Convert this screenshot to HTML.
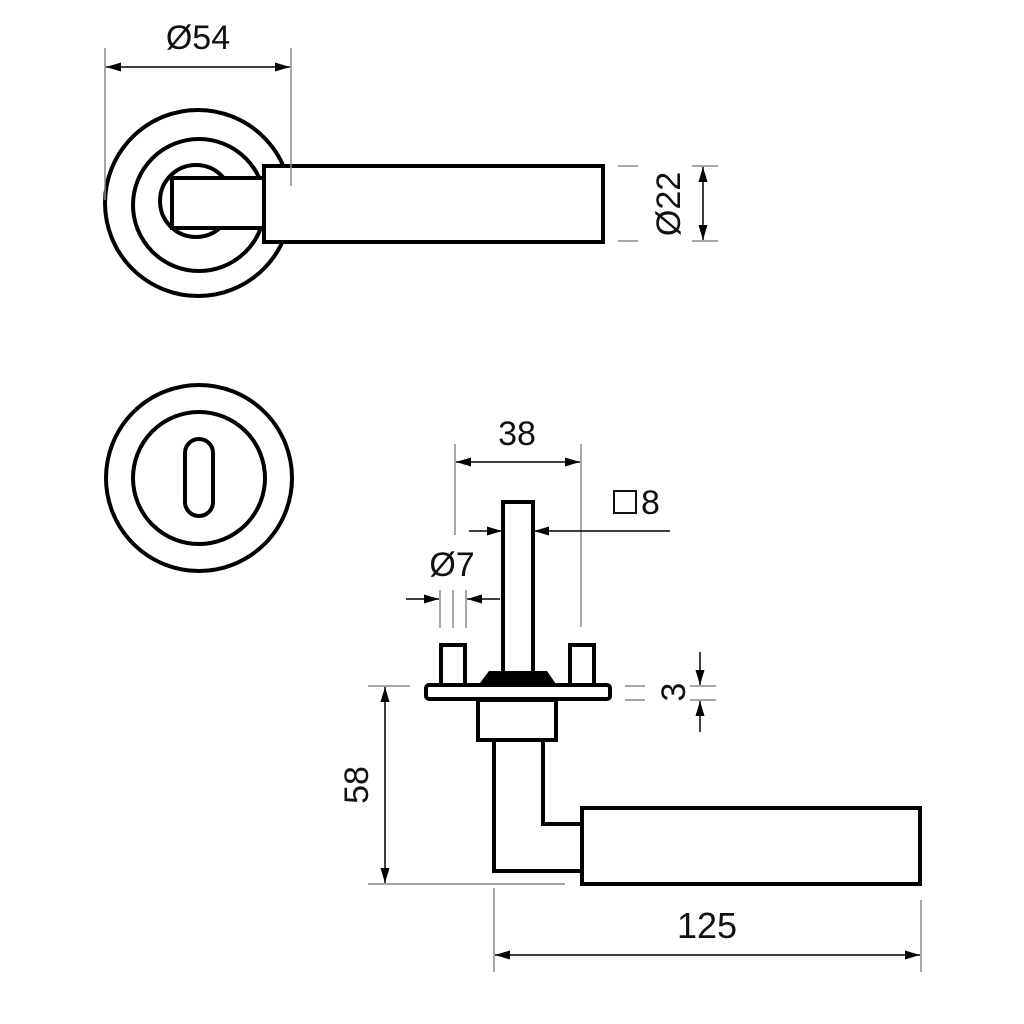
<!DOCTYPE html>
<html><head><meta charset="utf-8"><style>
html,body{margin:0;padding:0;background:#fff;}
svg{display:block;}
text{font-family:"Liberation Sans",sans-serif;fill:#111;}
</style></head><body>
<svg width="1024" height="1024" viewBox="0 0 1024 1024" xmlns="http://www.w3.org/2000/svg">
<defs>
<marker id="a" viewBox="0 0 15 9" refX="15" refY="4.5" markerWidth="15" markerHeight="9" markerUnits="userSpaceOnUse" orient="auto-start-reverse">
<path d="M0,0 L15,4.5 L0,9 z" fill="#000"/>
</marker>
</defs>
<rect width="1024" height="1024" fill="#fff"/>

<!-- Top view -->
<g fill="none" stroke="#000" stroke-width="4">
<circle cx="198" cy="203" r="93"/>
<circle cx="199" cy="205" r="66"/>
<circle cx="196" cy="201" r="36"/>
</g>
<rect x="172" y="178" width="93" height="50" fill="#fff" stroke="#000" stroke-width="4"/>
<rect x="264" y="166" width="339" height="76" fill="#fff" stroke="#000" stroke-width="4"/>

<!-- dims top -->
<g stroke="#888" stroke-width="1.5" fill="none">
<line x1="105" y1="48" x2="105" y2="200"/>
<line x1="291" y1="48" x2="291" y2="186"/>
<line x1="618" y1="166" x2="638" y2="166"/>
<line x1="618" y1="241" x2="638" y2="241"/>
<line x1="692" y1="166" x2="718" y2="166"/>
<line x1="692" y1="241" x2="718" y2="241"/>
</g>
<g stroke="#000" stroke-width="1.5">
<line x1="106" y1="67" x2="290" y2="67" marker-start="url(#a)" marker-end="url(#a)"/>
<line x1="703" y1="167" x2="703" y2="240" marker-start="url(#a)" marker-end="url(#a)"/>
</g>
<text x="198" y="49" font-size="34" text-anchor="middle">Ø54</text>
<text transform="translate(680,204) rotate(-90)" font-size="34" text-anchor="middle">Ø22</text>

<!-- Keyhole rosette -->
<g fill="none" stroke="#000" stroke-width="4">
<circle cx="199" cy="478" r="93"/>
<circle cx="199" cy="478" r="66"/>
<rect x="185" y="439" width="28" height="77" rx="14"/>
</g>

<!-- Side view -->
<rect x="503" y="502" width="30" height="172" fill="#fff" stroke="#000" stroke-width="4"/>
<rect x="441" y="645" width="24" height="42" fill="#fff" stroke="#000" stroke-width="4"/>
<rect x="570" y="645" width="24" height="42" fill="#fff" stroke="#000" stroke-width="4"/>
<path d="M477,687 L489,671 L547,671 L558,687 z" fill="#000"/>
<rect x="426" y="685" width="184" height="14" rx="3" fill="#fff" stroke="#000" stroke-width="4"/>
<rect x="478" y="700" width="78" height="40" fill="#fff" stroke="#000" stroke-width="4"/>
<path d="M494,740 L494,871 L583,871 M543,740 L543,824 L583,824" fill="none" stroke="#000" stroke-width="4"/>
<rect x="582" y="808" width="338" height="76" fill="#fff" stroke="#000" stroke-width="4"/>

<!-- side dims -->
<g stroke="#888" stroke-width="1.5" fill="none">
<line x1="455" y1="444" x2="455" y2="535"/>
<line x1="581" y1="444" x2="581" y2="627"/>
<line x1="440" y1="590" x2="440" y2="628"/>
<line x1="453" y1="590" x2="453" y2="628"/>
<line x1="466" y1="590" x2="466" y2="628"/>
<line x1="368" y1="686" x2="410" y2="686"/>
<line x1="368" y1="884" x2="565" y2="884"/>
<line x1="625" y1="686" x2="645" y2="686"/>
<line x1="625" y1="700" x2="645" y2="700"/>
<line x1="690" y1="686" x2="716" y2="686"/>
<line x1="690" y1="700" x2="716" y2="700"/>
<line x1="494" y1="888" x2="494" y2="972"/>
<line x1="921" y1="900" x2="921" y2="972"/>
</g>
<g stroke="#000" stroke-width="1.5" fill="none">
<line x1="456" y1="462" x2="580" y2="462" marker-start="url(#a)" marker-end="url(#a)"/>
<line x1="469" y1="531" x2="502" y2="531" marker-end="url(#a)"/>
<line x1="670" y1="531" x2="534" y2="531" marker-end="url(#a)"/>
<line x1="406" y1="599" x2="439" y2="599" marker-end="url(#a)"/>
<line x1="500" y1="599" x2="467" y2="599" marker-end="url(#a)"/>
<line x1="385" y1="687" x2="385" y2="883" marker-start="url(#a)" marker-end="url(#a)"/>
<line x1="700" y1="652" x2="700" y2="685" marker-end="url(#a)"/>
<line x1="700" y1="732" x2="700" y2="701" marker-end="url(#a)"/>
<line x1="495" y1="955" x2="920" y2="955" marker-start="url(#a)" marker-end="url(#a)"/>
</g>
<text x="517" y="445" font-size="34" text-anchor="middle">38</text>
<rect x="614" y="491" width="22" height="22" fill="none" stroke="#111" stroke-width="2"/>
<text x="641" y="514" font-size="34">8</text>
<text x="452" y="576" font-size="34" text-anchor="middle">Ø7</text>
<text transform="translate(368,785) rotate(-90)" font-size="34" text-anchor="middle">58</text>
<text transform="translate(685,692) rotate(-90)" font-size="34" text-anchor="middle">3</text>
<text x="707" y="938" font-size="36" text-anchor="middle">125</text>
</svg>
</body></html>
